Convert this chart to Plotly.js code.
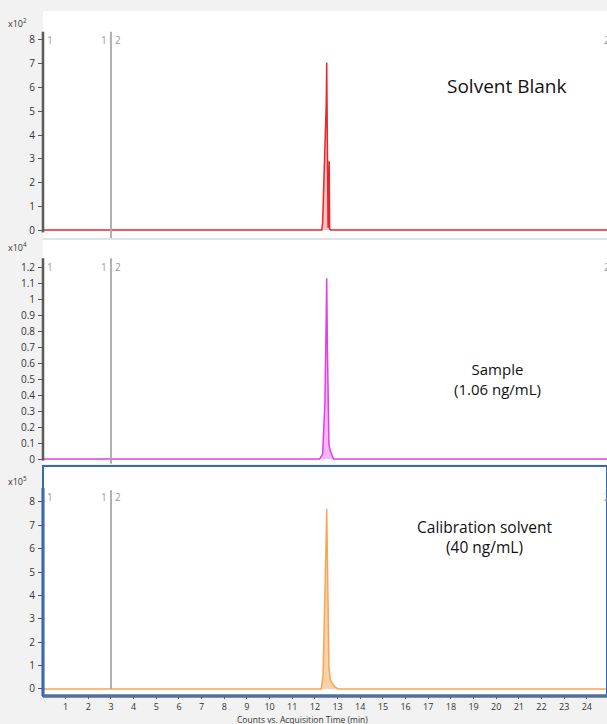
<!DOCTYPE html>
<html>
<head>
<meta charset="utf-8">
<script src="https://cdn.plot.ly/plotly-3.0.1.min.js"></script>
<style>html,body{margin:0;padding:0;background:#f2f2f2;}#chart{width:607px;height:724px;}</style>
</head>
<body>
<div id="chart"></div>
<script>
// Acquisition time (min)
var blankTime   = [0, 12.30, 12.34, 12.44, 12.50, 12.52, 12.54, 12.56, 12.58, 12.61, 12.63, 12.65, 12.70, 24.9];
// Solvent blank counts (x10^2)
var blankCounts = [0, 0, 0.3, 3.2, 5.3, 7.05, 5.0, 0.4, 0.1, 0.2, 2.9, 0.05, 0, 0];

var sampleTime   = [0, 12.20, 12.34, 12.44, 12.49, 12.52, 12.55, 12.58, 12.62, 12.68, 12.76, 12.82, 24.9];
// Sample counts (x10^4)
var sampleCounts = [0, 0, 0.03, 0.35, 0.8, 1.13, 0.7, 0.25, 0.09, 0.05, 0.02, 0, 0];

var calTime   = [0, 12.28, 12.36, 12.44, 12.49, 12.52, 12.55, 12.58, 12.62, 12.68, 12.78, 12.90, 13.02, 24.9];
// Calibration solvent counts (x10^5)
var calCounts = [0, 0, 0.6, 3.5, 6.2, 7.7, 5.4, 2.2, 0.9, 0.4, 0.22, 0.08, 0, 0];

var segmentBoundary = 3.0;

var blankTicks  = [0,1,2,3,4,5,6,7,8];
var sampleTicks = [0,0.1,0.2,0.3,0.4,0.5,0.6,0.7,0.8,0.9,1,1.1,1.2];
var sampleTickText = ["0","0.1","0.2","0.3","0.4","0.5","0.6","0.7","0.8","0.9","1","1.1","1.2"];
var calTicks = [0,1,2,3,4,5,6,7,8];
var timeTicks = [1,2,3,4,5,6,7,8,9,10,11,12,13,14,15,16,17,18,19,20,21,22,23,24];

var panelTitles = ["Solvent Blank", "Sample<br>(1.06 ng/mL)", "Calibration solvent<br>(40 ng/mL)"];
var multipliers = ["x10<sup>2</sup>", "x10<sup>4</sup>", "x10<sup>5</sup>"];

var traces = [
  {x: blankTime, y: blankCounts, xaxis:'x', yaxis:'y', mode:'lines', fill:'tozeroy',
   line:{color:'#e8262a', width:1.5}, fillcolor:'rgba(240,80,80,0.35)'},
  {x: sampleTime, y: sampleCounts, xaxis:'x', yaxis:'y2', mode:'lines', fill:'tozeroy',
   line:{color:'#e040e8', width:1.5}, fillcolor:'rgba(240,120,245,0.55)'},
  {x: calTime, y: calCounts, xaxis:'x', yaxis:'y3', mode:'lines', fill:'tozeroy',
   line:{color:'#f5a65a', width:1.5}, fillcolor:'rgba(250,190,130,0.7)'},
  {x:[segmentBoundary, segmentBoundary], y:[-0.34, 8.35], xaxis:'x', yaxis:'y', mode:'lines', line:{color:'#a8a8a8', width:1.8}},
  {x:[segmentBoundary, segmentBoundary], y:[-0.03, 1.255], xaxis:'x', yaxis:'y2', mode:'lines', line:{color:'#a8a8a8', width:1.8}},
  {x:[segmentBoundary, segmentBoundary], y:[0, 8.5], xaxis:'x', yaxis:'y3', mode:'lines', line:{color:'#a8a8a8', width:1.8}}
];

var tickFont = {family:'"Open Sans", "DejaVu Sans", sans-serif', size:10, color:'#333'};

function yax(domain, range, tv, tt) {
  var a = {domain:domain, range:range, tickmode:'array', tickvals:tv, showgrid:false, zeroline:false,
    showline:false, ticks:'outside', ticklen:4, tickwidth:1, tickcolor:'#555', tickfont:tickFont, fixedrange:true, ticklabelstandoff:1};
  if (tt) a.ticktext = tt;
  return a;
}

var annFont = {family:'"Open Sans", "Liberation Sans", sans-serif', color:'#111', weight:500};
var annotations = [
  {text:panelTitles[0], xref:'x', yref:'y', x:20.45, y:6.05, showarrow:false, font:Object.assign({size:19}, annFont)},
  {text:panelTitles[1], xref:'x', yref:'y2', x:20.05, y:0.5, showarrow:false, font:Object.assign({size:15}, annFont)},
  {text:panelTitles[2], xref:'x', yref:'y3', x:19.5, y:6.5, showarrow:false, font:Object.assign({size:15.5}, annFont)},
  {text:multipliers[0], xref:'paper', yref:'y', x:-0.045, y:8.35, xanchor:'center', yanchor:'bottom', showarrow:false, font:{size:9, color:'#333', family:'"Open Sans", sans-serif'}},
  {text:multipliers[1], xref:'paper', yref:'y2', x:-0.045, y:1.27, xanchor:'center', yanchor:'bottom', showarrow:false, font:{size:9, color:'#333', family:'"Open Sans", sans-serif'}},
  {text:multipliers[2], xref:'paper', yref:'y3', x:-0.045, y:8.5, xanchor:'center', yanchor:'bottom', showarrow:false, font:{size:9, color:'#333', family:'"Open Sans", sans-serif'}},
  {text:'Counts vs. Acquisition Time (min)', xref:'paper', yref:'paper', x:0.46, y:0, yshift:-16, yanchor:'top', showarrow:false, font:{size:8.5, color:'#333', family:'"Open Sans", sans-serif'}}
];
var segFont = {size:10, color:'#9a9a9a', family:'"Open Sans", sans-serif'};
[['y',8.0],['y2',1.2],['y3',8.2]].forEach(function(p){
  annotations.push({text:'1', xref:'x', yref:p[0], x:0.1, y:p[1], xanchor:'left', showarrow:false, font:segFont});
  annotations.push({text:'1', xref:'x', yref:p[0], x:segmentBoundary-0.08, y:p[1], xanchor:'right', showarrow:false, font:segFont});
  annotations.push({text:'2', xref:'x', yref:p[0], x:segmentBoundary+0.08, y:p[1], xanchor:'left', showarrow:false, font:segFont});
  annotations.push({text:'2', xref:'x', yref:p[0], x:24.66, y:p[1], xanchor:'left', showarrow:false, font:segFont});
});

var shapes = [
  {type:'line', xref:'paper', yref:'paper', x0:0, x1:1, y0:0.6566, y1:0.6566, line:{color:'#e2e2e2', width:2}},
  {type:'line', xref:'paper', yref:'y', x0:0, x1:0, y0:-0.1, y1:8.35, line:{color:'#5a5a5a', width:2.5}},
  {type:'line', xref:'paper', yref:'y2', x0:0, x1:0, y0:-0.01, y1:1.255, line:{color:'#5a5a5a', width:2.5}},
  {type:'line', xref:'paper', yref:'y3', x0:0, x1:0, y0:-0.3, y1:8.6, line:{color:'#2f5597', width:3}},
  {type:'rect', xref:'paper', yref:'y3 domain', x0:0, x1:1, y0:0, y1:1, line:{color:'#3b68b4', width:2}},
  {type:'line', xref:'paper', yref:'y3 domain', x0:0, x1:1, y0:0, y1:0, line:{color:'#4f6f9f', width:3.5}}
];

var layout = {
  width:607, height:724,
  margin:{l:43, r:0, t:0, b:28, pad:0},
  paper_bgcolor:'#f2f2f2', plot_bgcolor:'#ffffff',
  showlegend:false,
  xaxis:{domain:[0,1], range:[0,24.89], anchor:'y3', tickmode:'array', tickvals:timeTicks, ticks:'outside', ticklen:2,
    tickcolor:'#555', tickfont:{family:'"Open Sans", sans-serif', size:9, color:'#333'}, showgrid:false, zeroline:false, showline:false, fixedrange:true, ticklabelstandoff:0},
  yaxis: yax([0.658, 0.9842], [-0.337, 9.221], blankTicks),
  yaxis2: yax([0.3333, 0.6552], [-0.031, 1.369], sampleTicks, sampleTickText),
  yaxis3: yax([0, 0.3305], [-0.30, 9.54], calTicks),
  annotations: annotations,
  shapes: shapes
};

Plotly.newPlot('chart', traces, layout, {displayModeBar:false, staticPlot:true});
</script>
</body>
</html>
